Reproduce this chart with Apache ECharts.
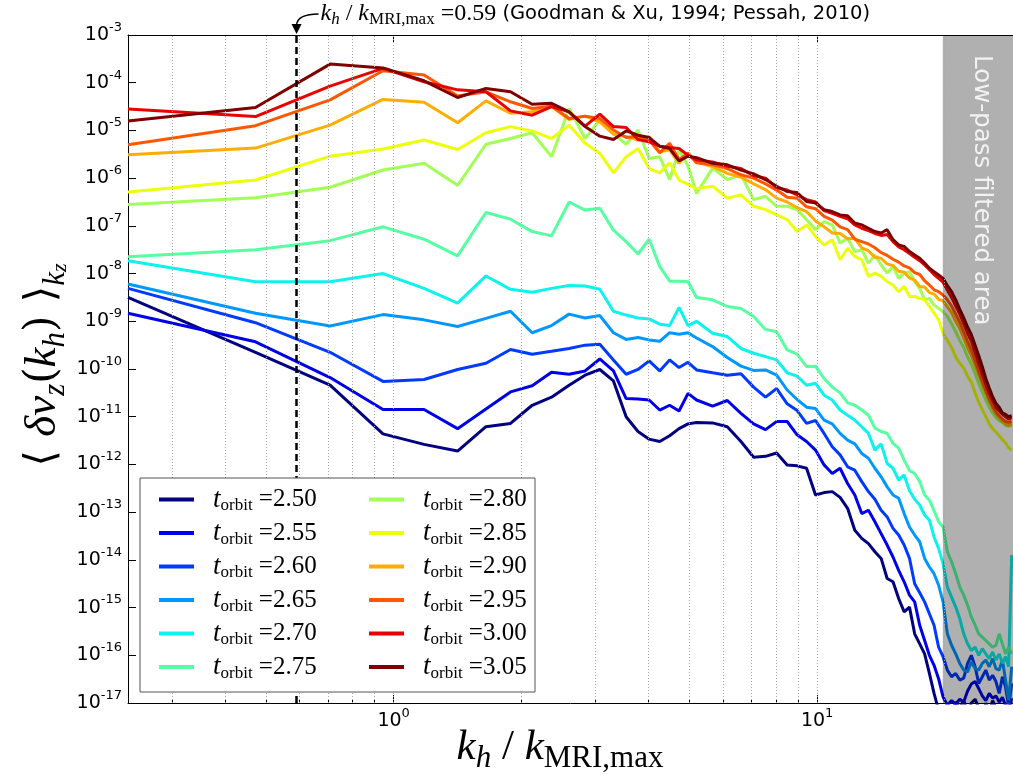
<!DOCTYPE html>
<html><head><meta charset="utf-8">
<script src="https://cdn.jsdelivr.net/npm/echarts@6/dist/echarts.min.js"></script>
<style>html,body{margin:0;padding:0;background:#fff}#c{width:1013px;height:775px}</style>
</head><body><div id="c"></div>
<script>
// k_h / k_MRI,max sample positions
const kh = [0.236,0.472,0.708,0.944,1.180,1.416,1.652,1.888,2.124,2.360,2.596,2.832,3.068,3.304,3.540,3.776,4.012,4.248,4.484,4.720,4.956,5.192,
5.664,6.136,6.608,7.080,7.552,8.024,8.496,8.968,9.440,9.912,10.384,10.856,11.328,11.800,12.272,12.744,13.216,13.688,14.160,14.632,15.104,15.576,16.048,16.520,16.992,17.464,17.936,18.408,18.880,19.352,19.824,
20.296,20.768,21.240,21.712,22.184,22.656,23.128,23.600,24.072,24.544,25.016,25.488,25.960,26.432,26.904,27.376,27.848,28.320,28.792];

// series values, stored as log10 of <dv_z(k_h)>_kz
const s250 = [-8.50,-9.65,-10.34,-11.36,-11.58,-11.72,-11.21,-11.14,-10.76,-10.59,-10.34,-10.13,-10.01,-10.25,-11.00,-11.31,-11.47,-11.52,-11.40,-11.25,-11.15,-11.12,
-11.13,-11.21,-11.52,-11.85,-11.83,-11.76,-12.01,-12.03,-12.08,-12.64,-12.59,-12.57,-12.69,-12.92,-13.38,-13.55,-13.66,-13.83,-13.97,-14.39,-14.46,-14.81,-15.09,-14.99,-15.55,-15.76,-15.97,-16.38,-16.80,-17.15,-17.30,
-17.40,-17.20,-16.98,-17.10,-16.95,-17.20,-17.00,-16.92,-17.10,-17.30,-17.00,-17.20,-16.95,-17.10,-17.30,-17.20,-17.40,-17.50,-17.30];
const s255 = [-8.83,-9.43,-10.18,-10.85,-10.85,-11.25,-10.84,-10.48,-10.35,-10.07,-10.11,-10.04,-9.79,-10.04,-10.62,-10.63,-10.65,-10.86,-10.76,-10.88,-10.51,-10.65,
-10.78,-10.66,-10.93,-11.15,-11.27,-11.10,-11.10,-11.38,-11.52,-11.70,-12.01,-12.19,-12.08,-12.40,-12.64,-13.03,-12.96,-13.20,-13.45,-13.69,-13.94,-14.22,-14.46,-14.74,-14.88,-15.37,-15.69,-16.00,-16.21,-16.49,-16.87,
-17.05,-16.95,-17.02,-16.92,-16.98,-16.75,-16.60,-16.55,-16.70,-16.85,-16.95,-16.80,-16.90,-16.85,-16.98,-16.88,-17.05,-17.20,-16.90];
const s260 = [-8.31,-9.03,-9.65,-10.26,-10.22,-10.01,-9.88,-9.59,-9.69,-9.63,-9.57,-9.50,-9.48,-9.81,-10.11,-10.01,-9.83,-10.04,-9.81,-9.97,-9.86,-10.02,
-10.08,-10.13,-10.10,-10.38,-10.59,-10.41,-10.73,-10.87,-11.14,-11.08,-11.35,-11.63,-11.80,-12.05,-12.12,-12.36,-12.57,-12.73,-12.96,-13.10,-13.34,-13.48,-13.69,-13.97,-14.50,-14.69,-14.88,-15.13,-15.37,-15.83,-16.03,
-16.31,-16.45,-16.38,-16.52,-16.48,-16.17,-16.00,-16.24,-16.59,-16.45,-16.31,-16.52,-16.42,-16.55,-16.80,-16.45,-16.66,-17.08,-16.59];
const s265 = [-8.22,-8.83,-9.10,-8.86,-8.97,-9.11,-8.94,-8.79,-9.24,-9.09,-8.85,-8.93,-8.88,-9.24,-9.38,-9.34,-9.39,-9.42,-9.24,-9.27,-9.24,-9.35,
-9.53,-9.76,-9.94,-10.03,-10.02,-10.13,-10.44,-10.64,-10.80,-10.83,-11.07,-11.15,-11.35,-11.49,-11.57,-11.77,-11.87,-12.08,-12.26,-12.47,-12.64,-12.71,-13.03,-13.31,-13.48,-13.62,-13.97,-14.15,-14.29,-14.53,-14.88,
-15.55,-15.79,-15.97,-16.17,-16.31,-16.35,-16.14,-16.28,-16.31,-16.17,-16.10,-16.24,-16.07,-16.28,-16.31,-16.10,-16.52,-16.94,-16.24];
const s270 = [-7.73,-8.17,-8.17,-8.00,-8.31,-8.62,-8.05,-8.33,-8.39,-8.31,-8.25,-8.26,-8.33,-8.79,-8.87,-8.93,-8.95,-9.06,-9.09,-8.71,-9.09,-9.00,
-9.25,-9.32,-9.57,-9.67,-9.74,-9.81,-10.08,-10.15,-10.34,-10.30,-10.55,-10.65,-10.86,-10.97,-11.07,-11.21,-11.35,-11.70,-11.57,-11.98,-12.08,-12.33,-12.22,-12.55,-12.73,-12.85,-13.06,-13.17,-13.52,-13.76,-14.08,
-14.57,-14.78,-14.99,-15.23,-15.55,-15.76,-15.90,-15.83,-16.00,-15.86,-15.97,-16.07,-15.93,-16.10,-15.97,-16.17,-16.03,-16.24,-13.90];
const s275 = [-7.65,-7.50,-7.31,-7.02,-7.28,-7.63,-6.72,-6.86,-7.12,-7.21,-6.50,-6.67,-6.63,-7.09,-7.33,-7.59,-7.28,-7.85,-8.16,-8.16,-8.17,-8.50,
-8.55,-8.69,-8.73,-8.90,-9.17,-9.22,-9.60,-9.69,-9.95,-9.94,-10.20,-10.38,-10.50,-10.71,-10.76,-10.86,-10.97,-11.24,-11.31,-11.35,-11.56,-11.66,-11.91,-12.13,-12.19,-12.36,-12.64,-12.75,-12.97,-13.20,-13.31,
-13.83,-14.04,-14.29,-14.57,-14.74,-14.95,-15.20,-15.37,-15.55,-15.62,-15.69,-15.76,-15.83,-15.79,-15.55,-15.76,-15.97,-15.83,-15.97];
const s280 = [-6.55,-6.41,-6.19,-5.83,-5.69,-6.15,-5.29,-5.17,-5.05,-5.55,-4.54,-5.17,-4.78,-5.06,-5.29,-4.99,-5.59,-5.55,-6.03,-5.41,-5.75,-6.32,
-5.79,-6.03,-5.93,-6.45,-6.38,-6.59,-6.59,-6.66,-6.87,-7.08,-6.91,-6.98,-7.36,-7.26,-7.54,-7.50,-7.78,-7.61,-7.82,-7.99,-7.85,-8.10,-7.99,-7.96,-8.17,-8.31,-8.55,-8.52,-8.66,-8.73,-8.80,
-8.90,-9.05,-9.22,-9.40,-9.55,-9.75,-9.90,-10.10,-10.30,-10.48,-10.65,-10.80,-10.92,-11.02,-11.08,-11.12,-11.18,-11.20,-11.18];
const s285 = [-6.29,-6.04,-5.54,-5.39,-5.20,-5.40,-5.05,-4.92,-5.01,-5.17,-4.89,-5.27,-5.48,-5.89,-5.55,-5.38,-5.80,-5.89,-5.68,-6.04,-6.13,-6.22,
-6.17,-6.42,-6.35,-6.59,-6.66,-6.77,-6.87,-7.12,-6.98,-7.22,-7.40,-7.29,-7.71,-7.47,-7.64,-7.71,-8.06,-7.99,-8.06,-8.17,-8.24,-8.38,-8.27,-8.48,-8.48,-8.52,-8.55,-8.69,-8.83,-8.97,-9.25,
-9.40,-9.55,-9.75,-9.88,-9.98,-10.15,-10.28,-10.50,-10.70,-10.85,-11.00,-11.15,-11.25,-11.32,-11.40,-11.48,-11.55,-11.65,-11.70];
const s290 = [-5.51,-5.37,-4.89,-4.35,-4.41,-4.84,-4.38,-4.64,-4.61,-4.50,-4.77,-4.70,-4.82,-5.08,-5.13,-5.20,-5.13,-5.45,-5.41,-5.69,-5.48,-5.66,
-5.76,-5.90,-5.98,-6.12,-6.24,-6.42,-6.50,-6.62,-6.70,-6.90,-7.02,-7.15,-7.16,-7.27,-7.26,-7.46,-7.52,-7.66,-7.68,-7.80,-7.83,-7.95,-7.97,-8.09,-8.14,-8.27,-8.28,-8.40,-8.43,-8.54,-8.57,
-8.70,-8.82,-9.00,-9.15,-9.35,-9.55,-9.72,-9.92,-10.12,-10.32,-10.50,-10.68,-10.82,-10.95,-11.02,-11.10,-11.15,-11.18,-11.15];
const s295 = [-5.30,-4.90,-4.36,-3.75,-3.84,-4.28,-4.19,-4.40,-4.54,-4.49,-4.75,-4.70,-4.75,-4.99,-5.15,-5.12,-5.20,-5.47,-5.27,-5.61,-5.48,-5.68,
-5.72,-5.80,-5.93,-6.00,-6.12,-6.25,-6.40,-6.42,-6.60,-6.64,-6.80,-6.88,-7.02,-7.08,-7.28,-7.33,-7.38,-7.46,-7.56,-7.62,-7.70,-7.76,-7.84,-7.88,-7.98,-8.02,-8.15,-8.24,-8.34,-8.38,-8.45,
-8.55,-8.68,-8.85,-9.02,-9.22,-9.42,-9.60,-9.82,-10.05,-10.25,-10.45,-10.62,-10.78,-10.90,-10.98,-11.05,-11.10,-11.12,-11.10];
const s300 = [-4.55,-4.71,-4.07,-3.70,-3.98,-4.15,-4.19,-4.59,-4.68,-4.50,-4.61,-4.91,-4.66,-4.92,-4.94,-5.19,-5.24,-5.33,-5.36,-5.38,-5.52,-5.62,
-5.66,-5.75,-5.80,-5.95,-6.00,-6.20,-6.25,-6.35,-6.45,-6.50,-6.68,-6.74,-6.80,-6.85,-6.98,-7.05,-7.10,-7.16,-7.20,-7.18,-7.33,-7.44,-7.50,-7.58,-7.66,-7.73,-7.82,-7.92,-8.02,-8.10,-8.18,
-8.35,-8.50,-8.68,-8.85,-9.05,-9.25,-9.42,-9.65,-9.88,-10.10,-10.32,-10.50,-10.65,-10.80,-10.88,-10.95,-11.00,-11.05,-11.02];
const s305 = [-4.80,-4.52,-3.61,-3.69,-3.96,-4.31,-4.12,-4.19,-4.45,-4.43,-4.61,-4.92,-5.12,-5.19,-5.01,-5.10,-5.15,-5.33,-5.38,-5.64,-5.54,-5.57,
-5.69,-5.72,-5.83,-5.91,-6.03,-6.17,-6.28,-6.30,-6.49,-6.52,-6.66,-6.70,-6.77,-6.79,-6.94,-6.98,-7.05,-7.12,-7.15,-7.08,-7.29,-7.40,-7.43,-7.54,-7.61,-7.68,-7.78,-7.89,-7.96,-8.03,-8.10,
-8.25,-8.38,-8.55,-8.75,-8.93,-9.12,-9.28,-9.50,-9.72,-9.95,-10.20,-10.40,-10.58,-10.72,-10.80,-10.92,-10.95,-11.00,-10.98];

const times = ['2.50','2.55','2.60','2.65','2.70','2.75','2.80','2.85','2.90','2.95','3.00','3.05'];
const colors = ['#000080','#0000e8','#003aff','#0097ff','#0bf3ec','#56ffa1','#a1ff56','#ecff0b','#ffad00','#ff5700','#e90100','#800000'];
const xMajorTicks = [1, 10];
const xMinorTicks = [0.3,0.4,0.5,0.6,0.7,0.8,0.9,2,3,4,5,6,7,8,9,20];
const yExponents = [-17,-16,-15,-14,-13,-12,-11,-10,-9,-8,-7,-6,-5,-4,-3];
const xMin = 0.236, xMax = 29.0;
const kMRImax = 0.59;
const lowPassFrom = 19.8;

const logSeries = [s250,s255,s260,s265,s270,s275,s280,s285,s290,s295,s300,s305];
const yTickValues = yExponents.map(e => Math.pow(10, e));

const supRich = {
  b: {fontFamily: 'DejaVu Sans', fontSize: 19, lineHeight: 28, color: '#000'},
  s: {fontFamily: 'DejaVu Sans', fontSize: 13, lineHeight: 13, verticalAlign: 'top', color: '#000'}
};
const powLabel = v => '{b|10}{s|' + Math.round(Math.log10(v)) + '}';

const dataSeries = logSeries.map((arr, i) => ({
  name: times[i], type: 'line', xAxisIndex: 0, yAxisIndex: 0,
  data: kh.map((k, j) => [k, Math.pow(10, arr[j])]),
  symbol: 'none', showSymbol: false, clip: true, z: 2,
  lineStyle: {width: 3, color: colors[i]}, itemStyle: {color: colors[i]},
  emphasis: {disabled: true}
}));

const gridSeries = {
  type: 'line', data: [], z: 1, silent: true, xAxisIndex: 0, yAxisIndex: 0,
  markLine: {
    symbol: 'none', silent: true, animation: false, label: {show: false},
    data: xMinorTicks.concat(xMajorTicks).map(v => ({xAxis: v, lineStyle: {color: '#a8a8a8', type: [1, 2], width: 1}}))
      .concat(yTickValues.slice(1, -1).map(v => ({yAxis: v, lineStyle: {color: '#707070', type: [1, 2], width: 1}})))
  }
};
const vlineSeries = {
  type: 'line', data: [], z: 3, silent: true, xAxisIndex: 0, yAxisIndex: 0,
  markLine: {
    symbol: 'none', silent: true, animation: false, label: {show: false},
    data: [{xAxis: kMRImax, lineStyle: {color: '#000', type: [7, 4], width: 2.5}}]
  }
};

const legendText = {
  fontFamily: 'Liberation Serif', fontSize: 24, color: '#000', padding: [0, 0, 0, 14],
  rich: {
    t: {fontFamily: 'Liberation Serif', fontStyle: 'italic', fontSize: 27, lineHeight: 30, color: '#000'},
    o: {fontFamily: 'Liberation Serif', fontSize: 17, lineHeight: 17, verticalAlign: 'bottom', color: '#000'},
    e: {fontFamily: 'Liberation Serif', fontSize: 25, lineHeight: 30, color: '#000'}
  }
};
const legendBase = {
  orient: 'vertical', icon: 'rect', itemWidth: 35, itemHeight: 4, itemGap: 5.0, top: 481,
  selectedMode: false, z: 6, textStyle: legendText,
  formatter: name => '{t|t}{o|orbit}{e| =' + name + '}'
};

const option = {
  animation: false,
  backgroundColor: '#fff',
  grid: {left: 128, top: 35, width: 885, height: 668, containLabel: false},
  xAxis: [
    {type: 'log', min: xMin, max: xMax, position: 'bottom',
      axisLine: {show: true, lineStyle: {color: '#000', width: 1}},
      axisTick: {show: true, inside: true, length: 8, lineStyle: {color: '#000'}, customValues: xMajorTicks},
      axisLabel: {show: true, customValues: xMajorTicks, formatter: powLabel, rich: supRich, margin: 4},
      splitLine: {show: false}, minorTick: {show: false}},
    {type: 'log', min: xMin, max: xMax, position: 'top',
      axisLine: {show: true, lineStyle: {color: '#000', width: 1}},
      axisTick: {show: true, inside: true, length: 8, lineStyle: {color: '#000'}, customValues: xMajorTicks},
      axisLabel: {show: false}, splitLine: {show: false}},
    {type: 'log', min: xMin, max: xMax, position: 'bottom',
      axisLine: {show: false},
      axisTick: {show: true, inside: true, length: 4, lineStyle: {color: '#000'}, customValues: xMinorTicks},
      axisLabel: {show: false}, splitLine: {show: false}}
  ],
  yAxis: [
    {type: 'log', min: 1e-17, max: 1e-3,
      axisLine: {show: true, lineStyle: {color: '#000', width: 1}},
      axisTick: {show: true, inside: true, length: 8, lineStyle: {color: '#000'}, customValues: yTickValues},
      axisLabel: {show: true, customValues: yTickValues, formatter: powLabel, rich: supRich, margin: 6},
      splitLine: {show: false}, minorTick: {show: false}}
  ],
  legend: [
    Object.assign({}, legendBase, {left: 154, data: times.slice(0, 6)}),
    Object.assign({}, legendBase, {left: 364, data: times.slice(6)})
  ],
  series: [gridSeries].concat(dataSeries, [vlineSeries])
};

const chart = echarts.init(document.getElementById('c'), null, {renderer: 'canvas'});
chart.setOption(option);

const px = v => chart.convertToPixel({xAxisIndex: 0}, v);
const py = v => chart.convertToPixel({yAxisIndex: 0}, v);
const gx0 = px(lowPassFrom), gx1 = px(xMax), gyT = py(1e-3), gyB = py(1e-17);
const vx = px(kMRImax);

const serif = 'Liberation Serif, DejaVu Serif';
chart.setOption({
  graphic: [
    {type: 'rect', z: 4, silent: true,
      shape: {x: gx0, y: gyT, width: gx1 - gx0, height: gyB - gyT},
      style: {fill: '#b0b0b0', blend: 'multiply'}},
    {type: 'text', z: 4, silent: true, x: (gx0 + gx1) / 2 + 3, y: gyT + 20, rotation: -Math.PI / 2,
      style: {text: 'Low-pass filtered area', fill: '#f2f2f2', font: '24.5px "DejaVu Sans"', align: 'left', verticalAlign: 'middle'}},
    {type: 'rect', z: 5, silent: true,
      shape: {x: 140, y: 478, width: 395, height: 214},
      style: {fill: '#fff', stroke: '#555', lineWidth: 1}},
    // annotation arrow
    {type: 'bezierCurve', z: 5, silent: true,
      shape: {x1: vx + 22, y1: 14, x2: vx, y2: 25, cpx1: vx + 1, cpy1: 14},
      style: {stroke: '#000', lineWidth: 1.5, fill: null}},
    {type: 'polygon', z: 5, silent: true,
      shape: {points: [[vx - 5, 24], [vx + 5, 24], [vx, 34]]},
      style: {fill: '#000'}},
    {type: 'text', z: 5, silent: true, x: vx + 24, y: 14,
      style: {
        text: '{i|k}{s|h}{n| / }{i|k}{m|MRI,max}{n| =0.59}{d| (Goodman & Xu, 1994; Pessah, 2010)}',
        align: 'left', verticalAlign: 'middle',
        rich: {
          i: {fontFamily: serif, fontStyle: 'italic', fontSize: 24, lineHeight: 28, fill: '#000'},
          s: {fontFamily: serif, fontStyle: 'italic', fontSize: 17, lineHeight: 17, verticalAlign: 'bottom', fill: '#000'},
          m: {fontFamily: serif, fontSize: 17, lineHeight: 17, verticalAlign: 'bottom', fill: '#000'},
          n: {fontFamily: serif, fontSize: 24, lineHeight: 28, fill: '#000'},
          d: {fontFamily: 'DejaVu Sans', fontSize: 19.5, lineHeight: 28, fill: '#000'}
        }
      }},
    // x axis title
    {type: 'text', z: 5, silent: true, x: 560, y: 748,
      style: {
        text: '{i|k}{s|h}{n| / }{i|k}{m|MRI,max}',
        align: 'center', verticalAlign: 'middle',
        rich: {
          i: {fontFamily: serif, fontStyle: 'italic', fontSize: 43, lineHeight: 52, fill: '#000'},
          s: {fontFamily: serif, fontStyle: 'italic', fontSize: 31, lineHeight: 31, verticalAlign: 'bottom', fill: '#000'},
          m: {fontFamily: serif, fontSize: 31, lineHeight: 31, verticalAlign: 'bottom', fill: '#000'},
          n: {fontFamily: serif, fontSize: 43, lineHeight: 52, fill: '#000'}
        }
      }},
    // y axis title
    {type: 'text', z: 5, silent: true, x: 43, y: (gyT + gyB) / 2 - 4, rotation: Math.PI / 2,
      style: {
        text: '{n|\u27E8 }{i|\u03B4v}{s|z}{n|(}{i|k}{s|h}{n|) \u27E9}{s|k}{t|z}',
        align: 'center', verticalAlign: 'middle',
        rich: {
          i: {fontFamily: serif, fontStyle: 'italic', fontSize: 45, lineHeight: 56, fill: '#000'},
          s: {fontFamily: serif, fontStyle: 'italic', fontSize: 31, lineHeight: 31, verticalAlign: 'bottom', fill: '#000'},
          t: {fontFamily: serif, fontStyle: 'italic', fontSize: 22, lineHeight: 22, verticalAlign: 'bottom', fill: '#000'},
          n: {fontFamily: 'DejaVu Serif', fontSize: 42, lineHeight: 56, fill: '#000'}
        }
      }}
  ]
});
</script>
</body></html>
